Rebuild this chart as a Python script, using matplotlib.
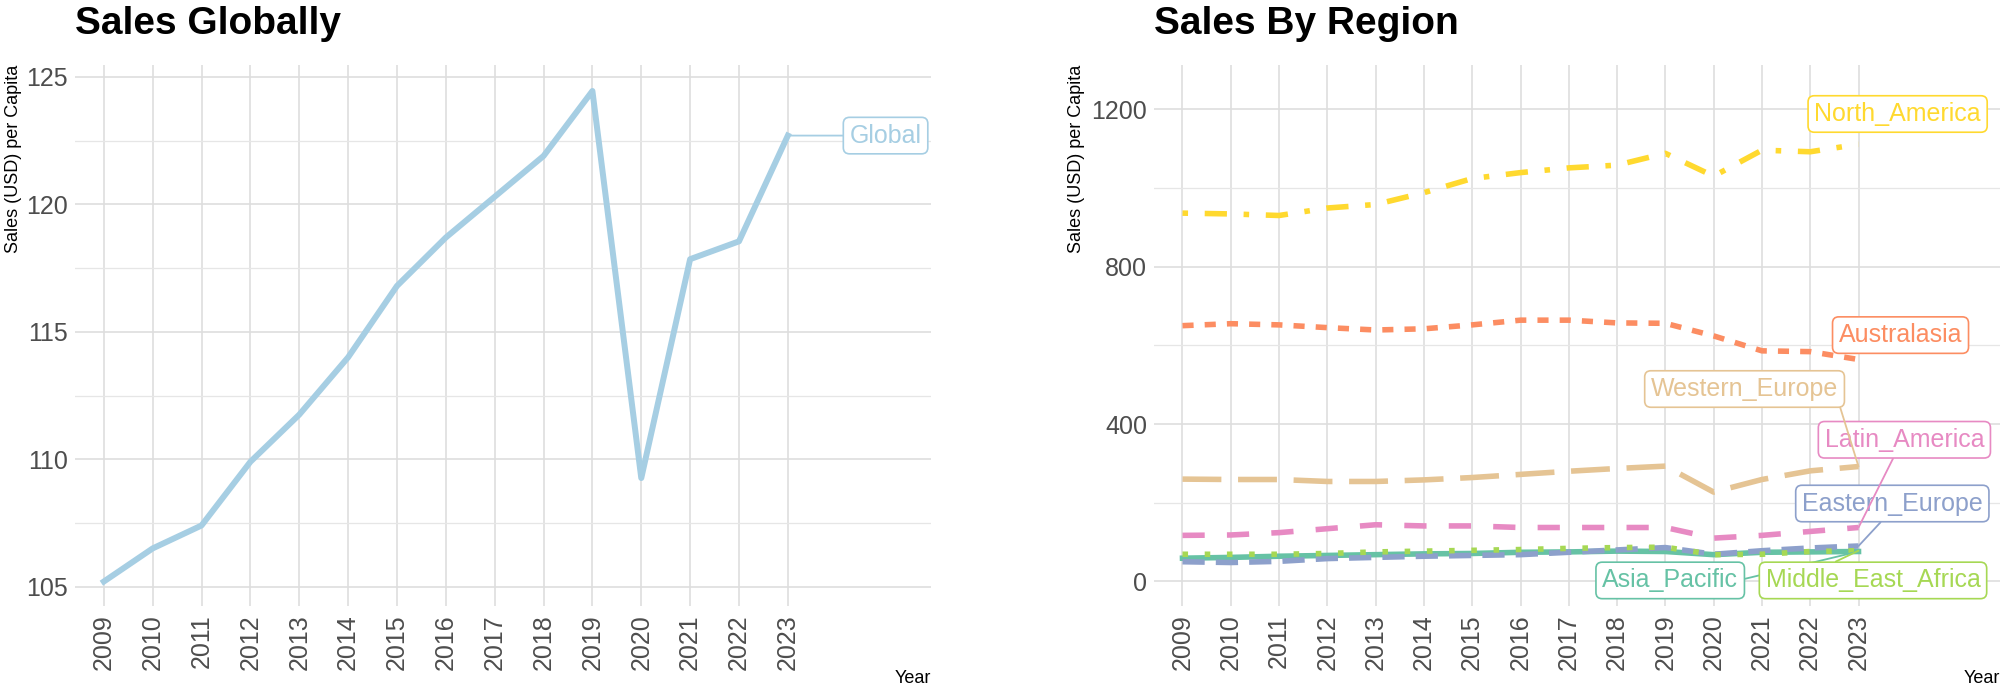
import matplotlib
matplotlib.use("Agg")
import matplotlib.pyplot as plt

plt.rcParams['font.family'] = ['Liberation Sans Narrow', 'Liberation Sans', 'DejaVu Sans']

years = list(range(2009, 2024))

# global sales per capita
global_sales = [105.2, 106.5, 107.4, 109.9, 111.75, 114.0, 116.8, 118.7,
                120.3, 121.9, 124.45, 109.26, 117.85, 118.55, 122.7]

# sales per capita by region
regions = ['Asia_Pacific', 'Australasia', 'Eastern_Europe', 'Latin_America',
           'Middle_East_Africa', 'North_America', 'Western_Europe']
asia_pacific = [59, 61, 64, 66, 68, 70, 71, 74, 75, 77, 76, 68, 74, 75, 76]
australasia = [650, 655, 652, 645, 639, 642, 652, 664, 664, 657, 656, 624, 586, 584, 564]
eastern_europe = [50, 48, 51, 58, 61, 64, 66, 68, 74, 80, 86, 69, 78, 85, 90]
latin_america = [117, 118, 124, 134, 144, 141, 141, 137, 137, 137, 137, 110, 117, 127, 137]
middle_east_africa = [69, 69, 69, 71, 75, 77, 79, 81, 84, 86, 87, 68, 69, 76, 78]
north_america = [936, 934, 930, 949, 958, 988, 1024, 1039, 1051, 1058, 1088, 1030, 1096, 1092, 1111]
western_europe = [260, 259, 259, 254, 254, 258, 264, 272, 280, 287, 293, 227, 259, 281, 292]
region_values = [asia_pacific, australasia, eastern_europe, latin_america,
                 middle_east_africa, north_america, western_europe]

# Set2 colours and ggplot default linetypes
colors = ['#66C2A5', '#FC8D62', '#8DA0CB', '#E78AC3', '#A6D854', '#FFD92F', '#E5C494']
linetypes = ['-', (0, (2, 2)), (0, (4, 2)), (0, (4, 4)), (0, (1, 3)),
             (0, (1, 3, 4, 3)), (0, (7, 3))]

# repelled label positions (data coords) and where the segment leaves the box
label_pos = {
    'Asia_Pacific': (2019.1, 2.5, (1.0, 0.5)),
    'Australasia': (2023.87, 626, None),
    'Eastern_Europe': (2023.7, 198, (0.47, 0.0)),
    'Latin_America': (2023.95, 360, (0.45, 0.0)),
    'Middle_East_Africa': (2023.3, 2.5, (0.26, 1.0)),
    'North_America': (2023.81, 1188, None),
    'Western_Europe': (2020.64, 489, (1.0, 0.0)),
}

W, H = 2008, 690
fig = plt.figure(figsize=(W / 100, H / 100), dpi=100)
top, bottom = 65, 606
ax1 = fig.add_axes([75 / W, 1 - bottom / H, (931 - 75) / W, (bottom - top) / H])
ax2 = fig.add_axes([1154 / W, 1 - bottom / H, (2000 - 1154) / W, (bottom - top) / H])

label_font = ['Liberation Sans', 'DejaVu Sans']


def style(ax, ylim, yticks, yminor, title, ylab_x):
    ax.set_xlim(2008.41, 2025.93)
    ax.set_ylim(*ylim)
    ax.set_xticks(years)
    ax.set_xticklabels([str(y) for y in years], rotation=90)
    ax.set_yticks(yticks)
    ax.set_yticks(yminor, minor=True)
    ax.tick_params(which='both', length=0)
    ax.tick_params(axis='both', labelsize=18, labelcolor='#4D4D4D')
    ax.tick_params(axis='x', pad=6)
    ax.tick_params(axis='y', pad=5)
    for s in ax.spines.values():
        s.set_visible(False)
    ax.grid(axis='y', which='major', color='#DEDEDE', lw=1.2)
    ax.grid(axis='y', which='minor', color='#E6E6E6', lw=0.9)
    ax.grid(axis='x', which='major', color='#DEDEDE', lw=1.2)
    ax.set_axisbelow(True)
    ax.set_title(title, loc='left', fontsize=28, fontweight='bold', pad=22)
    ax.set_ylabel('Sales (USD) per Capita', loc='top', fontsize=13)
    ax.yaxis.set_label_coords(ylab_x, 1.0)
    ax.set_xlabel('Year', loc='right', fontsize=13)
    ax.xaxis.set_label_coords(1.0, -0.118)


def box(c):
    return dict(boxstyle='round,pad=0.25,rounding_size=0.25', fc='white', ec=c, lw=1.2)


# left panel
ax1.plot(years, global_sales, color='#A6CEE3', lw=4.3)
style(ax1, (104.24, 125.47), [105, 110, 115, 120, 125],
      [107.5, 112.5, 117.5, 122.5], 'Sales Globally', -0.062)
ax1.annotate('Global', xy=(years[-1], global_sales[-1]), xytext=(2025.0, global_sales[-1]),
             ha='center', va='center', fontsize=18, color='#A6CEE3', family=label_font,
             bbox=box('#A6CEE3'),
             arrowprops=dict(arrowstyle='-', color='#A6CEE3', lw=1.3,
                             shrinkA=0, shrinkB=0, relpos=(0.0, 0.5)))

# right panel
for name, vals, c, ls in zip(regions, region_values, colors, linetypes):
    ax2.plot(years, vals, color=c, lw=4.0, linestyle=ls)
style(ax2, (-62.5, 1312.5), [0, 400, 800, 1200], [200, 600, 1000],
      'Sales By Region', -0.0816)

for name, vals, c in zip(regions, region_values, colors):
    lx, ly, rel = label_pos[name]
    kw = {}
    if rel is not None:
        kw['arrowprops'] = dict(arrowstyle='-', color=c, lw=1.3,
                                shrinkA=0, shrinkB=0, relpos=rel)
    ax2.annotate(name, xy=(years[-1], vals[-1]), xytext=(lx, ly),
                 ha='center', va='center', fontsize=18, color=c, family=label_font,
                 bbox=box(c), annotation_clip=False, **kw)

fig.savefig('out.png', dpi=100)
